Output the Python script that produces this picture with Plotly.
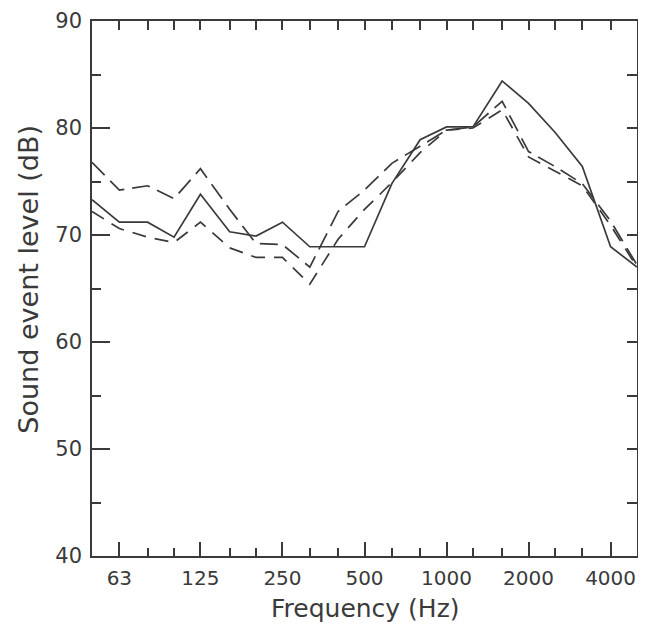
import plotly.graph_objects as go

# one-third octave band centre frequencies (Hz)
freqs = [50, 63, 80, 100, 125, 160, 200, 250, 315, 400, 500, 630, 800,
         1000, 1250, 1600, 2000, 2500, 3150, 4000, 5000]

# sound event levels (dB)
solid = [73.3, 71.2, 71.2, 69.8, 73.8, 70.3, 69.9, 71.2, 68.9, 68.9, 68.9,
         74.8, 78.9, 80.1, 80.1, 84.4, 82.3, 79.6, 76.4, 68.9, 67.0]
long_dash = [76.8, 74.2, 74.6, 73.4, 76.2, 72.4, 69.2, 69.1, 67.0, 72.2, 74.2,
             76.7, 78.3, 79.8, 80.1, 82.5, 77.8, 76.4, 74.8, 71.3, 67.2]
med_dash = [72.2, 70.6, 69.8, 69.3, 71.2, 68.8, 67.9, 67.9, 65.4, 69.6, 72.4,
            74.9, 77.7, 79.8, 80.0, 81.7, 77.3, 76.0, 74.6, 70.9, 67.0]

octave_ticks = [63, 125, 250, 500, 1000, 2000, 4000]
octave_labels = ["63", "125", "250", "500", "1000", "2000", "4000"]
third_ticks = [80, 100, 160, 200, 315, 400, 630, 800, 1250, 1600, 2500, 3150]
top_ticks = [63, 80, 100, 125, 160, 200, 250, 315, 400, 500, 630, 800,
             1000, 1250, 1600, 2000, 2500, 3150, 4000]
y_major = [40, 50, 60, 70, 80, 90]
y_minor = [45, 55, 65, 75, 85]
x_title = "Frequency (Hz)"
y_title = "Sound event level (dB)"

INK = "#3a3a3a"
FONT = "DejaVu Sans"

fig = go.Figure()
fig.add_trace(go.Scatter(x=freqs, y=solid, mode="lines",
                         line=dict(color=INK, width=1.7), showlegend=False))
fig.add_trace(go.Scatter(x=freqs, y=long_dash, mode="lines",
                         line=dict(color=INK, width=1.7, dash="18px,8px"), showlegend=False))
fig.add_trace(go.Scatter(x=freqs, y=med_dash, mode="lines",
                         line=dict(color=INK, width=1.7, dash="14px,9px"), showlegend=False))
# invisible anchor for the top/right tick axes
fig.add_trace(go.Scatter(x=freqs, y=solid, mode="lines", xaxis="x2", yaxis="y2",
                         line=dict(width=0), opacity=0, hoverinfo="skip", showlegend=False))

xr = [1.69897, 3.69897]
# the page body adds an 8px margin, so the figure is sized to stay inside
# the visible part of the 646x634 window
fig.update_layout(
    width=630, height=618,
    margin=dict(l=84, r=1, t=13, b=70),
    paper_bgcolor="white", plot_bgcolor="white",
    font=dict(family=FONT, color=INK, size=20),
    xaxis=dict(type="log", range=xr, showgrid=False, zeroline=False, automargin=False,
               showline=True, linecolor=INK, linewidth=1.6, mirror=True,
               tickmode="array", tickvals=octave_ticks, ticktext=octave_labels,
               ticks="inside", ticklen=14, tickwidth=1.6, tickcolor=INK,
               ticklabelstandoff=3,
               tickfont=dict(size=20, family=FONT, color=INK),
               minor=dict(tickmode="array", tickvals=third_ticks, ticks="inside",
                          ticklen=8, tickwidth=1.6, tickcolor=INK, showgrid=False)),
    yaxis=dict(range=[40, 90], showgrid=False, zeroline=False, automargin=False,
               showline=True, linecolor=INK, linewidth=1.6, mirror=True,
               tickmode="array", tickvals=y_major,
               ticks="inside", ticklen=18, tickwidth=1.6, tickcolor=INK,
               ticklabelstandoff=4,
               tickfont=dict(size=21, family=FONT, color=INK),
               minor=dict(tickmode="array", tickvals=y_minor, ticks="inside",
                          ticklen=9, tickwidth=1.6, tickcolor=INK, showgrid=False)),
    xaxis2=dict(type="log", range=xr, overlaying="x", side="top", anchor="y2",
                showgrid=False, zeroline=False, showline=False, automargin=False,
                tickmode="array", tickvals=top_ticks, showticklabels=False,
                ticks="inside", ticklen=9, tickwidth=1.6, tickcolor=INK),
    yaxis2=dict(range=[40, 90], overlaying="y", side="right", anchor="x2",
                showgrid=False, zeroline=False, showline=False, automargin=False,
                tickmode="array", tickvals=y_minor + [50, 60, 70, 80],
                showticklabels=False,
                ticks="inside", ticklen=10, tickwidth=1.6, tickcolor=INK),
    annotations=[
        dict(text=x_title, xref="paper", yref="paper", x=0.502, y=-0.1292,
             xanchor="center", yanchor="bottom", showarrow=False,
             font=dict(size=25, family=FONT, color=INK)),
        dict(text=y_title, xref="paper", yref="paper", x=-0.116, y=0.518,
             xanchor="center", yanchor="middle", textangle=-90, showarrow=False,
             font=dict(size=27, family=FONT, color=INK)),
    ],
)

fig.write_html("out.html")
